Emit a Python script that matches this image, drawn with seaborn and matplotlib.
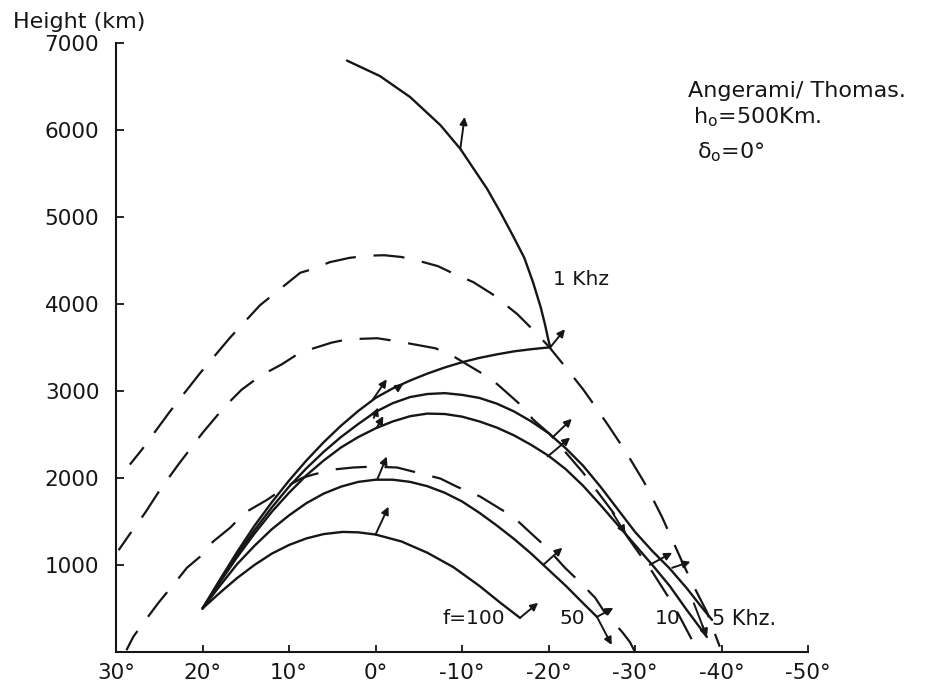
import matplotlib
matplotlib.use("Agg")
import matplotlib.pyplot as plt
import seaborn as sns
import pandas as pd

# Ray paths (latitude in degrees, height in km), source at h0 = 500 km
lat_100 = [20, 18, 16, 14, 12, 10, 8, 6, 3.8, 2, 0, -3, -6, -9, -12, -14.5, -16.7]
h_100 = [500, 680, 850, 1000, 1130, 1230, 1305, 1355, 1380, 1375, 1350, 1270, 1140, 975, 760, 560, 392]

lat_50 = [20, 18, 16, 14, 12, 10, 8, 6, 4, 2, 0, -2, -4, -6, -8, -10, -12, -14, -16, -18, -20,
          -22, -24, -25.6]
h_50 = [500, 760, 1010, 1220, 1410, 1570, 1710, 1820, 1900, 1955, 1980, 1980, 1955, 1905, 1830,
        1730, 1600, 1455, 1300, 1130, 945, 760, 560, 403]

lat_10 = [20, 18, 16, 14, 12, 10, 8, 6, 4, 2, 0, -2, -4, -6, -8, -10, -12, -14, -16, -18, -20,
          -22, -24, -26, -28, -30, -32, -34, -36, -38.3]
h_10 = [500, 800, 1090, 1360, 1610, 1830, 2030, 2200, 2350, 2470, 2570, 2650, 2710, 2740, 2735,
        2705, 2650, 2580, 2490, 2380, 2255, 2100, 1910, 1690, 1460, 1230, 1000, 760, 480, 173]

lat_5 = [20, 18, 16, 14, 12, 10, 8, 6, 4, 2, 0, -2, -4, -6, -8, -10, -12, -14, -16, -18, -20,
         -22, -24, -26, -28, -30, -32, -34, -36, -37.5, -38.9]
h_5 = [500, 820, 1120, 1400, 1660, 1900, 2110, 2300, 2470, 2620, 2760, 2860, 2930, 2965, 2975,
       2955, 2920, 2855, 2765, 2650, 2515, 2340, 2140, 1900, 1640, 1380, 1160, 960, 730, 540, 369]

lat_1 = [20, 18, 16, 14, 12, 10, 8, 6, 4, 2, 0, -2, -4, -6, -8, -10, -12, -14, -16, -18, -20.2,
         -19.95, -19.6, -19.1, -18.2, -17.2, -15.9, -14.4, -12.9, -11.3, -9.8, -7.5, -4.0, -0.5, 3.3]
h_1 = [500, 830, 1150, 1450, 1720, 1970, 2200, 2410, 2600, 2770, 2920, 3030, 3120, 3200, 3270,
       3330, 3380, 3420, 3455, 3480, 3502,
       3600, 3760, 3960, 4251, 4530, 4781, 5060, 5323, 5560, 5783, 6055, 6378, 6620, 6797]

# Dashed reference arcs
lat_d1 = [28.4, 27, 23.8, 20.3, 16.8, 13.35, 8.7, 7.3, 5.3, 3, 0.9, -1, -3, -5, -7.2, -9, -11.3,
          -13.5, -16.4, -17.9, -20, -21.7, -24, -25.4, -27, -29, -31, -32.1, -33.1, -34.3, -35.5,
          -36.7, -38.3, -39.2, -39.8]
h_d1 = [2154, 2327, 2760, 3203, 3615, 3986, 4359, 4400, 4480, 4530, 4555, 4560, 4540, 4495, 4435,
        4350, 4251, 4113, 3882, 3733, 3514, 3306, 3018, 2822, 2590, 2290, 1960, 1751, 1555, 1290,
        1025, 772, 461, 219, 60]

lat_d2 = [29.7, 28.6, 26.65, 24.9, 22.8, 20, 17.5, 15.5, 13.35, 10.84, 8.73, 5.06, 3.2, -0.2,
          -2.5, -6.9, -8.6, -12.1, -14.1, -17.1, -18.2, -20.2, -24, -27.5, -29.1, -32, -34.5,
          -36.4, -37.2]
h_d2 = [1170, 1328, 1598, 1866, 2154, 2518, 2813, 3013, 3172, 3306, 3441, 3556, 3594, 3606,
        3571, 3491, 3422, 3214, 3076, 2811, 2673, 2500, 2060, 1600, 1325, 920, 530, 173, 23]

lat_d3 = [28.8, 28, 26.4, 25.1, 23.2, 21.8, 20.3, 18.8, 16.8, 15.1, 12.5, 10.5, 8.4, 7.2, 4.9, 2.6,
          0.3, -2.5, -4.8, -7.5, -9.4, -12.1, -14, -15.9, -17.9, -19.8, -21.9, -23.6, -25.4,
          -26.3, -28.6, -29.4, -30]
h_d3 = [20, 176, 392, 565, 795, 968, 1094, 1267, 1429, 1601, 1751, 1889, 2004, 2039, 2097, 2120,
        2131, 2120, 2062, 1993, 1900, 1786, 1670, 1555, 1371, 1198, 968, 806, 622, 484, 219, 115, 0]

# Wave-normal arrows: base (lat, h) and tip (lat, h)
arrow_base_lat = [0.0, -16.7, -0.2, -19.4, -25.6, -25.6, -20.2, 0.3, -2.6, -9.8,
                  0.2, -0.14, -20.5, -19.9, -31.7, -34.3, -36.8, -37.8, -27.4]
arrow_base_h = [1350, 392, 1982, 1002, 403, 403, 3502, 2903, 3040, 5783,
                2690, 2577, 2470, 2247, 1002, 968, 560, 300, 1600]
arrow_tip_lat = [-1.5, -18.8, -1.3, -21.6, -27.5, -27.3, -21.9, -1.3, -3.2, -10.3,
                 -0.3, -0.9, -22.7, -22.5, -34.3, -36.4, -38.3, -38.3, -28.9]
arrow_tip_h = [1670, 565, 2247, 1198, 507, 80, 3710, 3134, 3080, 6150,
               2810, 2711, 2680, 2465, 1140, 1037, 173, 173, 1360]

x_ticks = [30, 20, 10, 0, -10, -20, -30, -40, -50]
x_tick_labels = ["30°", "20°", "10°", "0°", "-10°", "-20°", "-30°", "-40°", "-50°"]
y_ticks = [1000, 2000, 3000, 4000, 5000, 6000, 7000]
y_tick_labels = ["1000", "2000", "3000", "4000", "5000", "6000", "7000"]

ink = "#161616"

sns.set_style("white")
plt.rcParams["font.family"] = ["DejaVu Sans"]

fig = plt.figure(figsize=(9.32, 6.86), dpi=100)
ax = fig.add_axes([0.1245, 0.0496, 0.7425, 0.8878])

solid = [(lat_100, h_100), (lat_50, h_50), (lat_10, h_10), (lat_5, h_5), (lat_1, h_1)]
for la, hh in solid:
    df = pd.DataFrame({"lat": la, "h": hh})
    sns.lineplot(data=df, x="lat", y="h", sort=False, estimator=None, ax=ax,
                 color=ink, lw=1.7)

dashed = [(lat_d1, h_d1), (lat_d2, h_d2), (lat_d3, h_d3)]
for la, hh in dashed:
    df = pd.DataFrame({"lat": la, "h": hh})
    sns.lineplot(data=df, x="lat", y="h", sort=False, estimator=None, ax=ax,
                 color=ink, lw=1.6, linestyle=(4, (14, 8)))

for bl, bh, tl, th in zip(arrow_base_lat, arrow_base_h, arrow_tip_lat, arrow_tip_h):
    ax.annotate("", xy=(tl, th), xytext=(bl, bh),
                arrowprops=dict(arrowstyle="-|>", color=ink, lw=1.4,
                                mutation_scale=11, shrinkA=0, shrinkB=0))

ax.set_xlim(30, -50)
ax.set_ylim(0, 7000)
ax.set_xticks(x_ticks)
ax.set_xticklabels(x_tick_labels)
ax.set_yticks(y_ticks)
ax.set_yticklabels(y_tick_labels)
ax.set_xlabel("")
ax.set_ylabel("")
for side in ["top", "right"]:
    ax.spines[side].set_visible(False)
for side in ["left", "bottom"]:
    ax.spines[side].set_color(ink)
    ax.spines[side].set_linewidth(1.5)
ax.tick_params(axis="x", direction="in", length=5, width=1.3, colors=ink,
               labelsize=15.5, pad=8)
ax.tick_params(axis="y", direction="in", length=6, width=1.3, colors=ink,
               labelsize=15.5, pad=12)
ax.tick_params(bottom=True, left=True)

# Curve labels
ax.text(-11.4, 380, "f=100", fontsize=14.5, color=ink, ha="center", va="center")
ax.text(-22.8, 380, "50", fontsize=14.5, color=ink, ha="center", va="center")
ax.text(-33.8, 380, "10", fontsize=14.5, color=ink, ha="center", va="center")
ax.text(-38.9, 380, "5 Khz.", fontsize=15, color=ink, ha="left", va="center")
ax.text(-23.8, 4286, "1 Khz", fontsize=14.5, color=ink, ha="center", va="center")

fig.text(13 / 932, 1 - 22 / 686, "Height (km)", fontsize=16, color=ink,
         ha="left", va="center")
fig.text(688 / 932, 1 - 91 / 686, "Angerami/ Thomas.", fontsize=16, color=ink,
         ha="left", va="center")
fig.text(693 / 932, 1 - 117 / 686, r"h$_\mathregular{o}$=500Km.", fontsize=16, color=ink,
         ha="left", va="center")
fig.text(697 / 932, 1 - 152 / 686, r"δ$_\mathregular{o}$=0°", fontsize=16, color=ink,
         ha="left", va="center")

fig.savefig("out.png", dpi=100, facecolor="white")
